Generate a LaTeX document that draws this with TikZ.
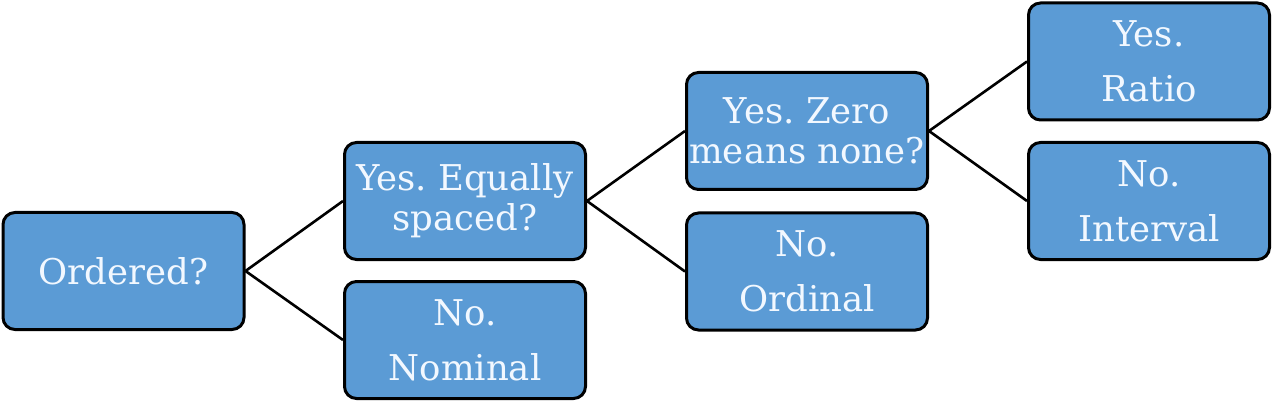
\documentclass[tikz,border=0pt]{standalone}
\usepackage{fontspec}
\setmainfont{DejaVu Serif}
\frenchspacing
\definecolor{boxfill}{HTML}{5B9BD5}
\definecolor{boxtext}{HTML}{F2F8FF}
\begin{document}
\begin{tikzpicture}[x=1pt,y=-1pt,
  dbox/.style={draw=black, line width=3pt, rounded corners=12pt, fill=boxfill,
    minimum width=241pt, minimum height=117pt, align=center, text=boxtext,
    inner sep=0pt, font=\fontsize{35.5}{40}\selectfont},
  conn/.style={line width=2.6pt, black}]
\useasboundingbox (0,0) rectangle (1273,403);
\node[dbox] (ord) at (123.5,271) {Ordered?};
\node[dbox] (eq) at (465,201) {Yes. Equally\\spaced?};
\node[dbox] (nom) at (465,340) {No.\\[15pt]Nominal};
\node[dbox] (zero) at (807,131) {Yes. Zero\\means none?};
\node[dbox] (ordi) at (807,271.5) {No.\\[15pt]Ordinal};
\node[dbox] (ratio) at (1149,61.5) {Yes.\\[15pt]Ratio};
\node[dbox] (int) at (1149,201) {No.\\[15pt]Interval};
\draw[conn] (ord.east) -- (eq.west);
\draw[conn] (ord.east) -- (nom.west);
\draw[conn] (eq.east) -- (zero.west);
\draw[conn] (eq.east) -- (ordi.west);
\draw[conn] (zero.east) -- (ratio.west);
\draw[conn] (zero.east) -- (int.west);
\end{tikzpicture}
\end{document}
